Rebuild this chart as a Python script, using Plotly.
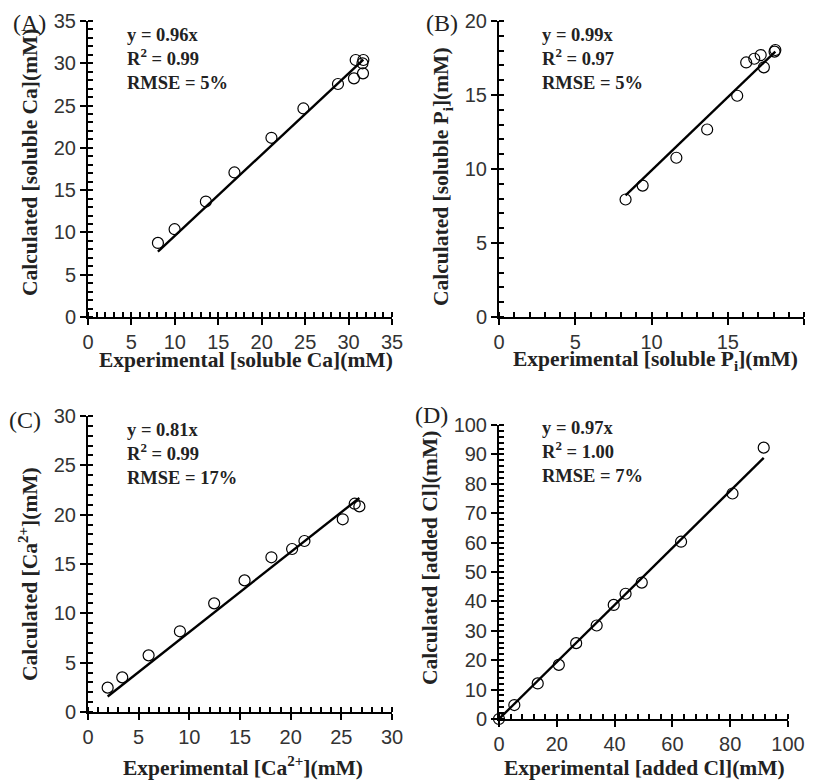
import plotly.graph_objects as go

# Panel A: soluble Ca
a_exp = [8.05, 9.97, 13.57, 16.86, 21.12, 24.8, 28.78, 30.82, 30.62, 31.66, 31.7, 31.6]
a_calc = [8.76, 10.38, 13.65, 17.09, 21.19, 24.66, 27.55, 30.39, 28.22, 28.81, 30.39, 30.0]
a_slope = 0.96
# Panel B: soluble Pi
b_exp = [8.3, 9.42, 11.63, 13.65, 15.62, 16.21, 16.74, 17.16, 17.37, 18.12, 18.07]
b_calc = [7.94, 8.88, 10.76, 12.67, 14.95, 17.2, 17.45, 17.7, 16.87, 18.04, 17.93]
b_slope = 0.99
# Panel C: Ca2+
c_exp = [1.94, 3.38, 5.98, 9.07, 12.45, 15.45, 18.1, 20.14, 21.36, 25.14, 26.32, 26.78]
c_calc = [2.47, 3.51, 5.74, 8.18, 11.01, 13.34, 15.68, 16.52, 17.33, 19.53, 21.11, 20.84]
c_slope = 0.81
# Panel D: added Cl
d_exp = [0, 5.3, 13.4, 20.7, 26.7, 33.8, 39.7, 43.8, 49.4, 63.0, 80.8, 91.6]
d_calc = [0, 4.75, 12.1, 18.4, 25.8, 31.8, 38.8, 42.6, 46.4, 60.3, 76.7, 92.3]
d_slope = 0.97

stats = {
    "A": ["y = 0.96x", "R<sup>2</sup> = 0.99", "RMSE = 5%"],
    "B": ["y = 0.99x", "R<sup>2</sup> = 0.97", "RMSE = 5%"],
    "C": ["y = 0.81x", "R<sup>2</sup> = 0.99", "RMSE = 17%"],
    "D": ["y = 0.97x", "R<sup>2</sup> = 1.00", "RMSE = 7%"],
}

# page has an 8px body margin; work in screen pixels and convert
OFF = 8
W, H = 814 - OFF, 781 - OFF
def px(x):
    return (x - OFF) / W
def py(y):
    return 1 - (y - OFF) / H

panels = [
    dict(key="A", ax="", x=a_exp, y=a_calc, k=a_slope, xr=35, yr=35, xdt=5, ydt=5, xm=1, ym=1,
         box=(88, 392, 21, 317), lab=(48, 23), st=(125, 35), xtp=(246, 360), ytp=(30, 162),
         xt="Experimental [soluble Ca](mM)", yt="Calculated [soluble Ca](mM)"),
    dict(key="B", ax="2", x=b_exp, y=b_calc, k=b_slope, xr=20, yr=20, xdt=5, ydt=5, xm=1, ym=1,
         box=(499, 804, 21, 317), lab=(460, 23), st=(540, 35), xtp=(655, 360), ytp=(442, 177),
         xt="Experimental [soluble P<sub>i</sub>](mM)", yt="Calculated [soluble P<sub>i</sub>](mM)"),
    dict(key="C", ax="3", x=c_exp, y=c_calc, k=c_slope, xr=30, yr=30, xdt=5, ydt=5, xm=1, ym=1,
         box=(88, 392, 416, 712), lab=(43, 420), st=(125, 430), xtp=(243, 766), ytp=(28, 574),
         xt="Experimental [Ca<sup>2+</sup>](mM)", yt="Calculated [Ca<sup>2+</sup>](mM)"),
    dict(key="D", ax="4", x=d_exp, y=d_calc, k=d_slope, xr=100, yr=100, xdt=20, ydt=10, xm=4, ym=2,
         box=(499, 788, 425, 719), lab=(450, 415), st=(540, 428), xtp=(644, 768), ytp=(430, 558),
         xt="Experimental [added Cl](mM)", yt="Calculated [added Cl](mM)"),
]

fig = go.Figure()
layout = {}
annotations = []
serif = "Liberation Serif"
sans = "Liberation Sans"
tcol = "#222"

for p in panels:
    xa = "x" + p["ax"]
    ya = "y" + p["ax"]
    l, r, t, b = p["box"]
    fx = [min(p["x"]), max(p["x"])]
    fig.add_trace(go.Scatter(x=fx, y=[p["k"] * v for v in fx], mode="lines",
                             line=dict(color="black", width=2.4), xaxis=xa, yaxis=ya,
                             showlegend=False, hoverinfo="skip"))
    fig.add_trace(go.Scatter(x=p["x"], y=p["y"], mode="markers",
                             marker=dict(symbol="circle-open", size=11, color="black",
                                         line=dict(width=1.2, color="black")),
                             xaxis=xa, yaxis=ya, showlegend=False, cliponaxis=False))
    axcommon = dict(showgrid=False, zeroline=False, showline=True, linecolor="black", linewidth=2,
                    ticks="outside", ticklen=6, tickwidth=2, tickcolor="black", automargin=False,
                    tickfont=dict(family=sans, size=20, color="#333"))
    layout["xaxis" + p["ax"]] = dict(axcommon, domain=[px(l), px(r)], range=[0, p["xr"]], dtick=p["xdt"],
                                     tick0=0, anchor=ya,
                                     minor=dict(dtick=p["xm"], ticks="inside", ticklen=5, tickwidth=1.5,
                                                tickcolor="black", showgrid=False))
    layout["yaxis" + p["ax"]] = dict(axcommon, domain=[py(b), py(t)], range=[0, p["yr"]], dtick=p["ydt"],
                                     tick0=0, anchor=xa,
                                     minor=dict(dtick=p["ym"], ticks="inside", ticklen=5, tickwidth=1.5,
                                                tickcolor="black", showgrid=False))
    # axis titles
    annotations.append(dict(text="<b>" + p["xt"] + "</b>", xref="paper", yref="paper",
                            x=px(p["xtp"][0]), y=py(p["xtp"][1]), xanchor="center", yanchor="middle",
                            showarrow=False, font=dict(family=serif, size=21.5, color=tcol)))
    annotations.append(dict(text="<b>" + p["yt"] + "</b>", xref="paper", yref="paper", textangle=-90,
                            x=px(p["ytp"][0]), y=py(p["ytp"][1]), xanchor="center", yanchor="middle",
                            showarrow=False, font=dict(family=serif, size=21.5, color=tcol)))
    # stats text (first line centre at st)
    annotations.append(dict(text="<b>" + "<br>".join(stats[p["key"]]) + "</b>",
                            xref="paper", yref="paper", x=px(p["st"][0]), y=py(p["st"][1] - 12),
                            xanchor="left", yanchor="top", align="left", showarrow=False,
                            font=dict(family=serif, size=18.5, color=tcol)))
    # panel label
    annotations.append(dict(text="(" + p["key"] + ")", xref="paper", yref="paper",
                            x=px(p["lab"][0]), y=py(p["lab"][1]),
                            xanchor="right", yanchor="middle", showarrow=False,
                            font=dict(family=serif, size=24, color=tcol)))

fig.update_layout(**layout)
fig.update_layout(width=W, height=H, margin=dict(l=0, r=0, t=0, b=0),
                  plot_bgcolor="white", paper_bgcolor="white", annotations=annotations)

fig.write_html("out.html")
